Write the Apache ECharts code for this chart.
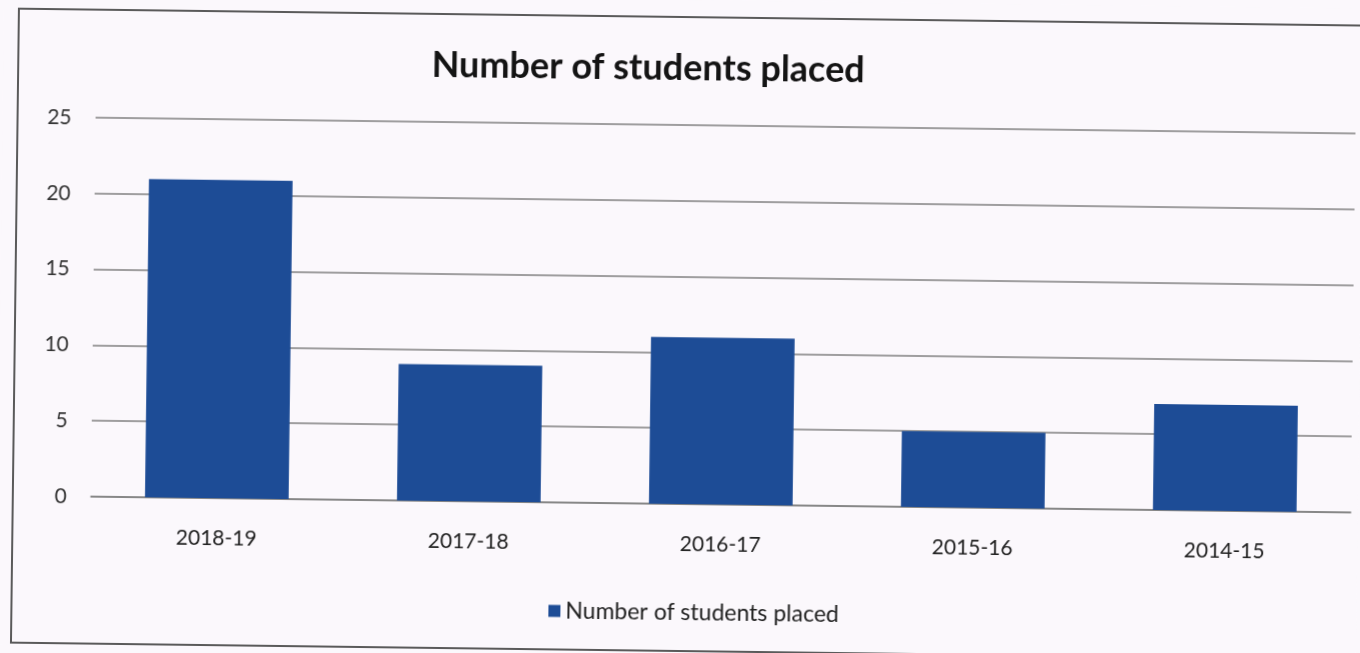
<!DOCTYPE html>
<html>
<head>
<meta charset="utf-8">
<title>Number of students placed</title>
<script src="https://cdn.jsdelivr.net/npm/echarts@6/dist/echarts.min.js"></script>
<style>
  html, body { margin: 0; padding: 0; background: #fbf8fc; overflow: hidden; }
  #chart {
    width: 1360px;
    height: 653px;
    /* the printed sheet sits slightly askew */
    transform: rotate(0.72deg);
    transform-origin: 680px 326px;
  }
</style>
</head>
<body>
<div id="chart"></div>
<script>
// Academic years, newest first
const years = ['2018-19', '2017-18', '2016-17', '2015-16', '2014-15'];
// Students placed in each year
const placed = [21, 9, 11, 5, 7];
// Value axis ticks
const yTicks = [0, 5, 10, 15, 20, 25];
const seriesName = 'Number of students placed';

const chart = echarts.init(document.getElementById('chart'), null, { renderer: 'canvas' });

const font = 'Lato, "Open Sans", "DejaVu Sans", sans-serif';

chart.setOption({
  backgroundColor: '#fbf8fc',
  animation: false,
  title: {
    text: 'Number of students placed',
    left: 640,
    textAlign: 'center',
    top: 45,
    textStyle: { fontFamily: font, fontWeight: 'bold', fontSize: 36, color: '#141414' }
  },
  graphic: [{
    type: 'rect',
    shape: { x: 15, y: 17, width: 1360, height: 634 },
    style: { fill: 'none', stroke: '#5a5a5a', lineWidth: 2 },
    silent: true
  }],
  legend: {
    data: [seriesName],
    left: 547,
    top: 596,
    itemWidth: 12,
    itemHeight: 12,
    itemGap: 8,
    icon: 'rect',
    textStyle: { fontFamily: font, fontSize: 23, color: '#222' }
  },
  grid: { left: 93, right: 7, top: 125, bottom: 149, containLabel: false },
  xAxis: {
    type: 'category',
    data: years,
    axisTick: { show: false },
    axisLine: { lineStyle: { color: '#808080', width: 1.5 } },
    axisLabel: { fontFamily: font, fontSize: 21, color: '#222', margin: 30 }
  },
  yAxis: {
    type: 'value',
    min: yTicks[0],
    max: yTicks[yTicks.length - 1],
    interval: yTicks[1] - yTicks[0],
    axisLine: { show: false },
    axisTick: { show: false },
    splitLine: { lineStyle: { color: '#808080', width: 1.5 } },
    axisLabel: { fontFamily: font, fontSize: 21, color: '#333', margin: 24 }
  },
  series: [{
    name: seriesName,
    type: 'bar',
    data: placed,
    barCategoryGap: '43%',
    itemStyle: { color: '#1d4c96' }
  }]
});
</script>
</body>
</html>
